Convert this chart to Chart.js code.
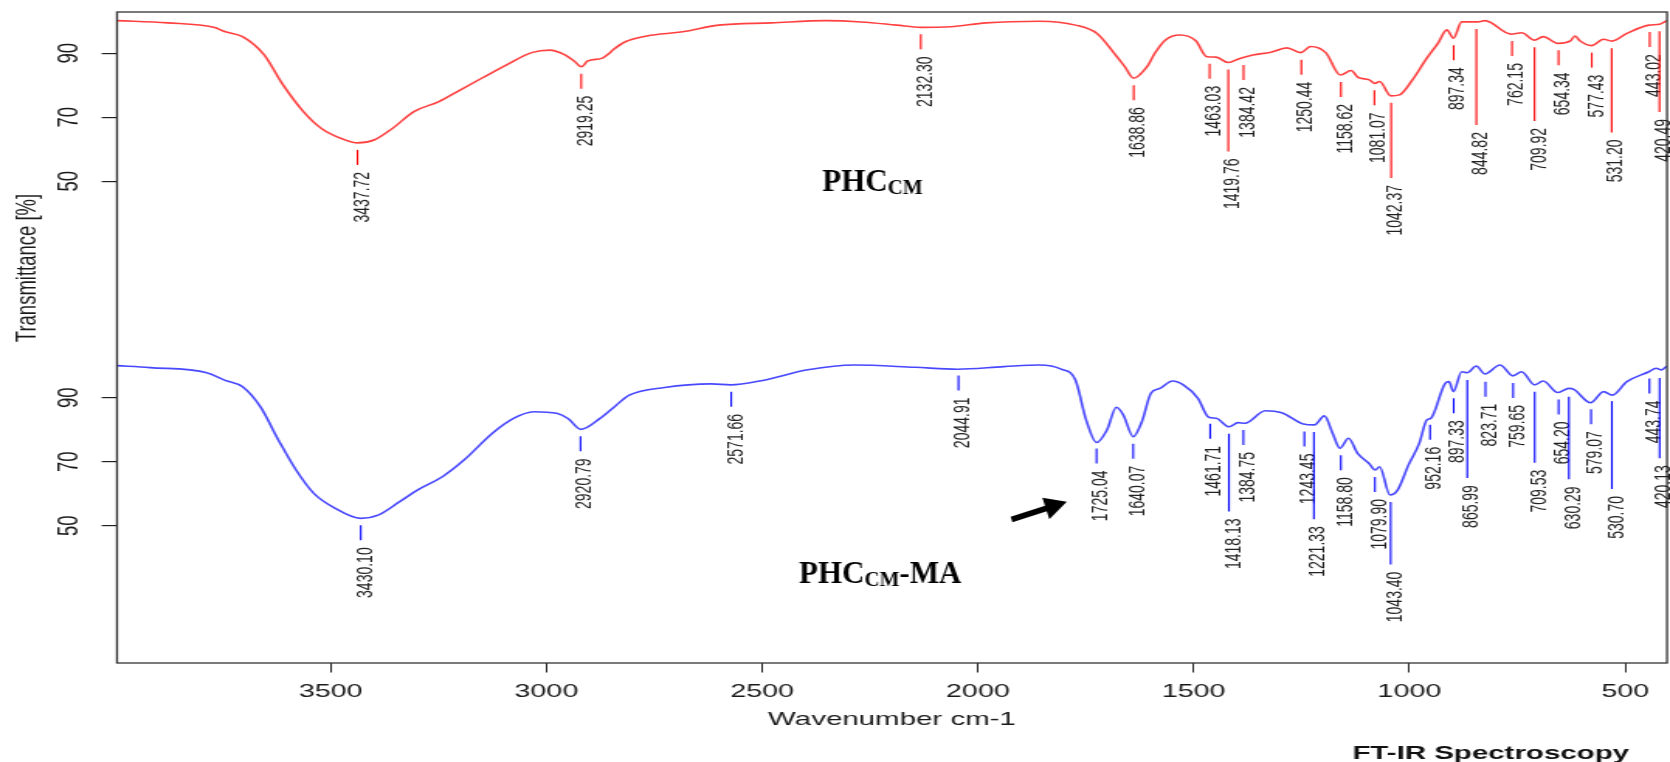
<!DOCTYPE html>
<html>
<head>
<meta charset="utf-8">
<script src="https://cdn.jsdelivr.net/npm/chart.js@4.4.1/dist/chart.umd.min.js"></script>
<style>
html,body{margin:0;padding:0;background:#fff;overflow:hidden}
canvas{display:block}
</style>
</head>
<body>
<canvas id="c" width="1077" height="762" style="width:1670px;height:762px"></canvas>
<script>
// ---------------- data ----------------
const xTickValues = [3500, 3000, 2500, 2000, 1500, 1000, 500];
const yTickValues = [50, 70, 90];

// PHC_CM spectrum (wavenumber cm-1, transmittance %)
const wnCM = [3995, 3878, 3771, 3746, 3704, 3654, 3613, 3563, 3522, 3472, 3437, 3398, 3356, 3307, 3249, 3199, 3150, 3092, 3034, 2992, 2957, 2935, 2919, 2904, 2870, 2854, 2846, 2817, 2767, 2684, 2601, 2478, 2353, 2270, 2188, 2132, 2063, 1981, 1856, 1774, 1724, 1684, 1660, 1639, 1608, 1590, 1566, 1532, 1495, 1469, 1448, 1420, 1393, 1363, 1321, 1284, 1252, 1229, 1194, 1160, 1135, 1119, 1093, 1080, 1069, 1043, 1023, 993, 960, 934, 913, 898, 879, 841, 825, 765, 740, 710, 690, 656, 627, 616, 605, 578, 550, 531, 496, 445, 420, 403];
const tCM = [100.2, 99.5, 98.1, 96.8, 95.2, 89.5, 80.7, 71.8, 66.6, 63.2, 62.0, 63.0, 66.6, 71.8, 74.9, 78.6, 82.2, 86.4, 90.2, 91.0, 89.5, 87.5, 85.8, 87.6, 88.5, 90.0, 91.0, 93.6, 95.4, 96.7, 98.8, 99.5, 100.2, 99.8, 98.8, 98.1, 98.3, 99.5, 100.0, 98.8, 96.2, 90.0, 85.9, 82.2, 85.8, 90.0, 94.1, 95.7, 93.9, 88.9, 88.8, 87.1, 88.4, 89.5, 90.3, 91.7, 90.2, 92.1, 90.2, 83.2, 84.6, 82.5, 81.7, 80.6, 81.2, 76.7, 77.0, 81.7, 88.4, 93.1, 97.3, 94.7, 99.8, 99.8, 100.2, 96.0, 96.4, 94.1, 95.2, 93.1, 93.9, 95.4, 93.9, 92.4, 94.4, 93.8, 96.2, 98.8, 99.1, 100.2];

// PHC_CM-MA spectrum
const wnCMMA = [3995, 3919, 3787, 3746, 3704, 3663, 3621, 3580, 3539, 3489, 3431, 3390, 3340, 3298, 3241, 3191, 3125, 3075, 3029, 2976, 2950, 2920, 2875, 2842, 2808, 2726, 2618, 2573, 2502, 2394, 2287, 2146, 2047, 1940, 1857, 1807, 1774, 1749, 1725, 1701, 1679, 1663, 1640, 1620, 1599, 1578, 1549, 1524, 1490, 1465, 1448, 1418, 1397, 1381, 1334, 1296, 1246, 1220, 1197, 1178, 1161, 1141, 1120, 1094, 1079, 1069, 1045, 1027, 1002, 977, 960, 950, 917, 908, 898, 879, 866, 845, 825, 790, 760, 740, 710, 690, 656, 630, 619, 580, 550, 530, 496, 445, 428, 416, 403];
const tCMMA = [100.0, 99.4, 97.8, 95.5, 93.4, 87.2, 76.8, 67.4, 60.1, 55.4, 52.3, 53.3, 57.5, 61.2, 65.3, 70.5, 78.9, 83.6, 85.6, 85.1, 83.5, 80.1, 83.6, 87.2, 90.8, 93.2, 94.3, 94.0, 95.3, 98.7, 100.2, 99.5, 98.9, 99.7, 100.2, 98.9, 95.5, 83.0, 76.0, 79.9, 87.0, 84.6, 77.8, 82.5, 91.4, 92.9, 95.2, 94.0, 89.8, 83.9, 83.6, 80.9, 82.2, 82.0, 85.9, 85.3, 81.8, 81.5, 84.3, 78.9, 74.2, 77.3, 72.6, 69.5, 67.4, 68.4, 59.6, 61.2, 69.0, 75.8, 83.0, 83.6, 94.5, 95.0, 91.9, 98.1, 97.8, 99.9, 97.4, 100.2, 96.8, 98.1, 94.0, 95.2, 91.6, 92.9, 92.6, 88.4, 91.9, 90.8, 95.0, 98.1, 99.2, 98.7, 99.9];

// labelled peaks (wavenumber, transmittance at the peak)
const peakWnCM = [3437.72, 2919.25, 2132.30, 1638.86, 1463.03, 1419.76, 1384.42, 1250.44, 1158.62, 1081.07, 1042.37, 897.34, 844.82, 762.15, 709.92, 654.34, 577.43, 531.20, 443.02, 420.49];
const peakTCM = [62.0, 85.8, 98.1, 82.2, 88.9, 87.1, 88.5, 90.2, 83.2, 80.6, 76.7, 94.7, 99.8, 96.0, 94.1, 93.1, 92.4, 93.8, 98.8, 99.1];
const peakWnCMMA = [3430.10, 2920.79, 2571.66, 2044.91, 1725.04, 1640.07, 1461.71, 1418.13, 1384.75, 1243.45, 1221.33, 1158.80, 1079.90, 1043.40, 952.16, 897.33, 865.99, 823.71, 759.65, 709.53, 654.20, 630.29, 579.07, 530.70, 443.74, 420.13];
const peakTCMMA = [52.3, 80.1, 94.0, 99.1, 76.3, 77.8, 84.0, 80.9, 82.1, 81.6, 81.5, 74.2, 67.4, 59.6, 83.7, 92.0, 97.7, 97.2, 96.8, 94.0, 91.6, 92.5, 88.6, 91.1, 98.2, 98.3];

// ---------------- layout / style ----------------
const CW = 1077, K = 1670 / CW;          // canvas is drawn narrow and displayed stretched
const STACK_OFFSET = 107.6;              // upper spectrum shifted up (stacked plot)
const X_MIN = 403, X_MAX = 3995, Y_MIN = 7.1, Y_MAX = 210.5;
const FONT = "'Liberation Sans', Arial, sans-serif";
const SERIF = "'Liberation Serif', 'Times New Roman', serif";

// annotation anchors in data units
const labelCM = {wn: 2361, t: 47.1, off: STACK_OFFSET, parts: [{t: 'PHC', s: 31, dy: 0}, {t: 'CM', s: 21, dy: 3}]};
const labelCMMA = {wn: 2414.5, t: 32.1, off: 0, parts: [{t: 'PHC', s: 31, dy: 0}, {t: 'CM', s: 21, dy: 3}, {t: '-MA', s: 31, dy: 0}]};
const arrowFrom = {wn: 1922, t: 51.9}, arrowTo = {wn: 1794, t: 57.5};

Chart.defaults.font.family = FONT;
Chart.defaults.color = '#1a1a1a';

const toPts = (wn, t, off) => wn.map((w, i) => ({x: w, y: t[i] + off}));

function drawPeaks(ctx, xs, ys, wns, ts, off, color) {
  ctx.font = '14px ' + FONT;
  const placed = [];
  wns.forEach((wn, i) => {
    const text = wn.toFixed(2);
    const len = ctx.measureText(text).width;
    const px = xs.getPixelForValue(wn);
    const yc = ys.getPixelForValue(ts[i] + off);
    const lineTop = yc + 7;
    let lineEnd = lineTop + 15;
    let labTop = lineEnd + 7;
    let moved = true;
    while (moved) {
      moved = false;
      for (const p of placed) {
        if (Math.abs(p.x - px) < 14.9 && labTop < p.bottom && labTop + len > p.top) {
          lineEnd = p.bottom + 15; labTop = lineEnd + 7; moved = true;
        }
      }
    }
    placed.push({x: px, top: labTop, bottom: labTop + len});
    ctx.strokeStyle = color; ctx.lineWidth = 1.1;
    ctx.beginPath(); ctx.moveTo(px, lineTop); ctx.lineTo(px, lineEnd); ctx.stroke();
    ctx.save();
    ctx.translate(px, labTop); ctx.rotate(-Math.PI / 2);
    ctx.textAlign = 'right'; ctx.textBaseline = 'alphabetic'; ctx.fillStyle = '#222';
    ctx.fillText(text, 0, 7);
    ctx.restore();
  });
}

const ftirPlugin = {
  id: 'ftir',
  afterDraw(chart) {
    const {ctx, chartArea: a, scales: {x, y}} = chart;
    ctx.save();
    // frame
    ctx.strokeStyle = '#333'; ctx.lineWidth = 1.3;
    ctx.strokeRect(a.left, a.top, a.right - a.left, a.bottom - a.top);
    // peak markers
    drawPeaks(ctx, x, y, peakWnCM, peakTCM, STACK_OFFSET, '#ff0000');
    drawPeaks(ctx, x, y, peakWnCMMA, peakTCMMA, 0, '#0000ff');
    // y title
    ctx.save();
    ctx.fillStyle = '#1a1a1a'; ctx.font = '18.5px ' + FONT;
    ctx.translate(17.9, 268); ctx.rotate(-Math.PI / 2);
    ctx.textAlign = 'center'; ctx.textBaseline = 'middle';
    ctx.fillText('Transmittance [%]', 0, 0);
    ctx.restore();
    // footer
    ctx.fillStyle = '#111'; ctx.font = 'bold 19px ' + FONT;
    ctx.textAlign = 'right'; ctx.textBaseline = 'alphabetic';
    ctx.fillText('FT-IR Spectroscopy', 1629 / K, 759);
    // sample names and arrow, drawn unstretched
    ctx.save();
    ctx.scale(1 / K, 1);
    ctx.fillStyle = '#000'; ctx.textAlign = 'left'; ctx.textBaseline = 'alphabetic';
    [labelCM, labelCMMA].forEach(l => {
      let px = x.getPixelForValue(l.wn) * K;
      const py = y.getPixelForValue(l.t + l.off);
      l.parts.forEach(p => {
        ctx.font = `bold ${p.s}px ${SERIF}`;
        ctx.fillText(p.t, px, py + p.dy);
        px += ctx.measureText(p.t).width;
      });
    });
    const x0 = x.getPixelForValue(arrowFrom.wn) * K, y0 = y.getPixelForValue(arrowFrom.t);
    const x1 = x.getPixelForValue(arrowTo.wn) * K, y1 = y.getPixelForValue(arrowTo.t);
    const ang = Math.atan2(y1 - y0, x1 - x0), L = Math.hypot(x1 - x0, y1 - y0);
    ctx.translate(x0, y0); ctx.rotate(ang);
    ctx.beginPath();
    ctx.moveTo(0, -2.9); ctx.lineTo(L - 22, -2.9); ctx.lineTo(L - 22, -11.3);
    ctx.lineTo(L, 0); ctx.lineTo(L - 22, 11.3); ctx.lineTo(L - 22, 2.9); ctx.lineTo(0, 2.9);
    ctx.closePath(); ctx.fill();
    ctx.restore();
    ctx.restore();
  }
};

new Chart(document.getElementById('c'), {
  type: 'line',
  data: {
    datasets: [
      {label: 'PHC_CM', data: toPts(wnCM, tCM, STACK_OFFSET), borderColor: 'rgb(255,64,64)', borderWidth: 1.6,
       pointRadius: 0, cubicInterpolationMode: 'monotone', fill: false},
      {label: 'PHC_CM-MA', data: toPts(wnCMMA, tCMMA, 0), borderColor: 'rgb(72,72,255)', borderWidth: 1.6,
       pointRadius: 0, cubicInterpolationMode: 'monotone', fill: false}
    ]
  },
  options: {
    responsive: false, animation: false, devicePixelRatio: 1,
    layout: {padding: {left: 0, top: 12, right: CW - 1667 / K, bottom: 0}},
    plugins: {legend: {display: false}, tooltip: {enabled: false}},
    scales: {
      x: {
        type: 'linear', reverse: true, min: X_MIN, max: X_MAX,
        afterBuildTicks: s => { s.ticks = xTickValues.map(v => ({value: v})); },
        afterFit: s => { s.height = 99; s.paddingLeft = 0; s.paddingRight = 0; },
        ticks: {autoSkip: false, maxRotation: 0, padding: 8.1, font: {size: 18.5}, color: '#1a1a1a',
                callback: v => String(v)},
        grid: {drawOnChartArea: false, drawTicks: true, tickLength: 9.5, color: '#222', lineWidth: 1},
        border: {display: false},
        title: {display: true, text: 'Wavenumber cm-1', font: {size: 19}, color: '#1a1a1a', padding: {top: 0, bottom: 30.6}}
      },
      y: {
        type: 'linear', min: Y_MIN, max: Y_MAX,
        afterBuildTicks: s => {
          s.ticks = yTickValues.map(v => ({value: v})).concat(yTickValues.map(v => ({value: v + STACK_OFFSET})));
        },
        afterFit: s => { s.width = 75.45; s.paddingTop = 0; s.paddingBottom = 0; },
        ticks: {
          autoSkip: false, minRotation: 90, maxRotation: 90, crossAlign: 'center', padding: 10.4,
          font: {size: 18.5}, color: '#1a1a1a',
          callback: v => String(Math.round(v > STACK_OFFSET ? v - STACK_OFFSET : v))
        },
        grid: {drawOnChartArea: false, drawTicks: true, tickLength: 9.9, color: '#222', lineWidth: 1.2},
        border: {display: false}
      }
    }
  },
  plugins: [ftirPlugin]
});
</script>
</body>
</html>
